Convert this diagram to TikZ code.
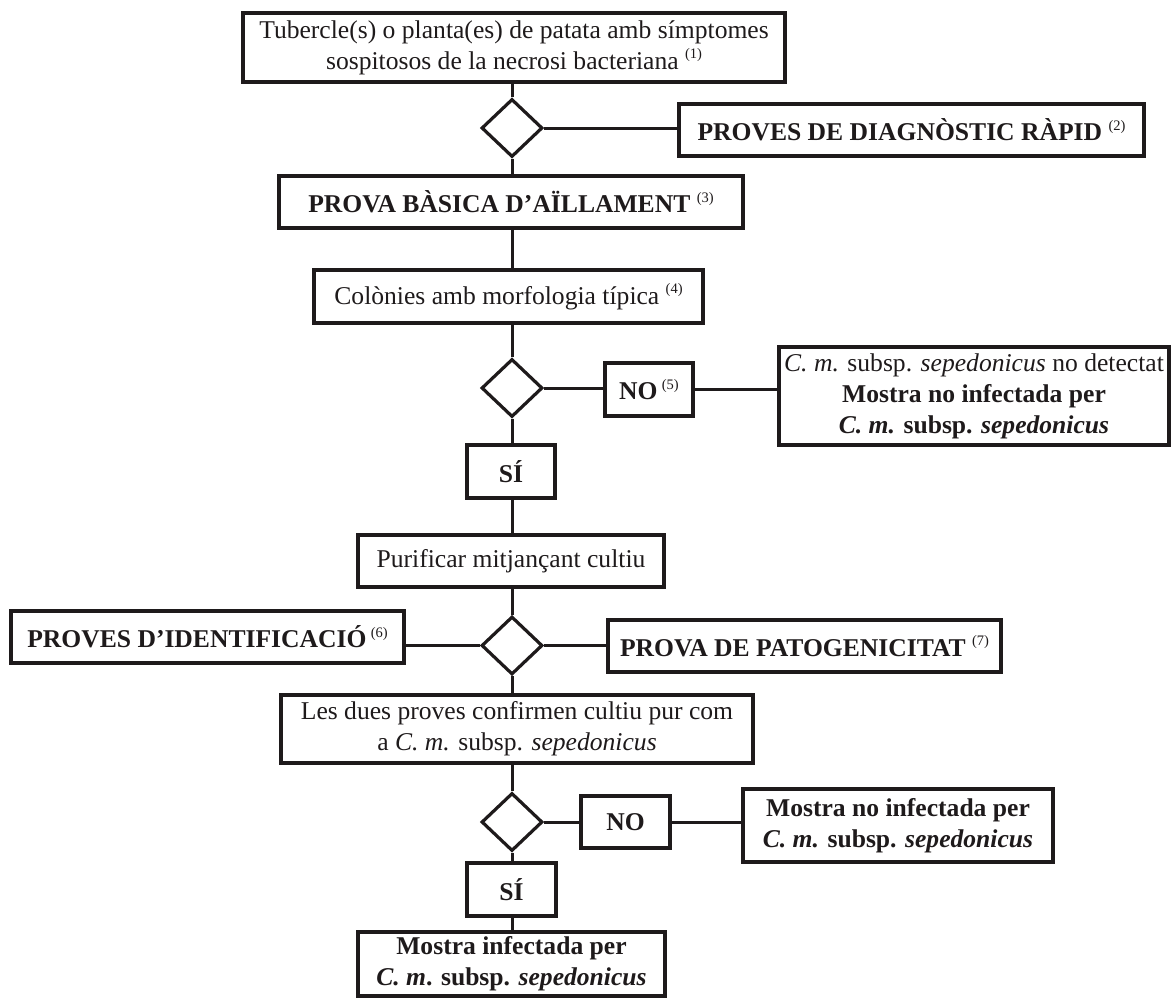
\documentclass[tikz,border=0pt]{standalone}
\usepackage{fontspec}
\setmainfont{Liberation Serif}
\usetikzlibrary{shapes.geometric}
\definecolor{ink}{RGB}{30,26,27}
\newcommand{\fnum}[1]{\raisebox{0.42em}{\fontsize{14.5bp}{14.5bp}\selectfont\mdseries(#1)}}
\begin{document}
\begin{tikzpicture}[x=1bp,y=-1bp,
  box/.style={draw=ink, rectangle, line width=3.2bp, inner xsep=2bp, inner ysep=1bp,
    align=center, text=ink, font=\fontsize{25.6bp}{31bp}\selectfont},
  bbox/.style={box, font=\fontsize{25.6bp}{31bp}\selectfont\bfseries},
  dec/.style={draw=ink, diamond, line width=3.2bp, minimum width=61bp, minimum height=58bp, inner sep=0pt},
  link/.style={draw=ink, line width=3bp}]
\useasboundingbox (0,0) rectangle (1171,999);

\node[box, minimum width=542bp, minimum height=69bp] (top) at (514,47.5)
  {Tubercle(s) o planta(es) de patata amb símptomes\\sospitosos de la necrosi bacteriana \fnum{1}};
\node[dec] (d1) at (512,128) {};
\node[bbox, minimum width=465bp, minimum height=52bp] (diag) at (911.5,130)
  {PROVES DE DIAGNÒSTIC RÀPID \fnum{2}};
\node[bbox, minimum width=464bp, minimum height=52bp] (basic) at (511,202)
  {PROVA BÀSICA D’AÏLLAMENT \fnum{3}};
\node[box, minimum width=389bp, minimum height=53bp] (col) at (508.5,296.5)
  {Colònies amb morfologia típica \fnum{4}};
\node[dec] (d2) at (512,388) {};
\node[bbox, minimum width=88bp, minimum height=53bp] (no1) at (649,389.5)
  {NO\,\fnum{5}};
\node[box, minimum width=390bp, minimum height=98bp] (big) at (974,396)
  {\textit{C. m.} subsp. \textit{sepedonicus} no detectat\\
   \textbf{Mostra no infectada per}\\
   \textbf{\textit{C. m.} subsp. \textit{sepedonicus}}};
\node[bbox, minimum width=88bp, minimum height=53bp] (si1) at (511,471.5) {SÍ};
\node[box, minimum width=306bp, minimum height=52bp] (pur) at (511,561)
  {Purificar mitjançant cultiu};
\node[dec] (d3) at (512,645.5) {};
\node[bbox, minimum width=393bp, minimum height=52bp] (ident) at (207.5,637)
  {PROVES D’IDENTIFICACIÓ\,\fnum{6}};
\node[bbox, minimum width=393bp, minimum height=52bp] (pat) at (804.5,646)
  {PROVA DE PATOGENICITAT \fnum{7}};
\node[box, minimum width=472bp, minimum height=68bp] (dues) at (517,729)
  {Les dues proves confirmen cultiu pur com\\a \textit{C. m.} subsp. \textit{sepedonicus}};
\node[dec] (d4) at (512,822) {};
\node[bbox, minimum width=89bp, minimum height=52bp] (no2) at (625.5,822) {NO};
\node[bbox, minimum width=310bp, minimum height=73bp] (low) at (898,825.5)
  {Mostra no infectada per\\\textit{C. m.} subsp. \textit{sepedonicus}};
\node[bbox, minimum width=89bp, minimum height=53bp] (si2) at (511.5,889.5) {SÍ};
\node[bbox, minimum width=307bp, minimum height=64bp] (final) at (511.5,964)
  {Mostra infectada per\\\textit{C. m}. subsp. \textit{sepedonicus}};

\draw[link] (d1.north |- top.south) -- (d1.north);
\draw[link] (d1.east) -- (d1.east -| diag.west);
\draw[link] (d1.south) -- (d1.south |- basic.north);
\draw[link] (d1.south |- basic.south) -- (d1.south |- col.north);
\draw[link] (d2.north |- col.south) -- (d2.north);
\draw[link] (d2.east) -- (d2.east -| no1.west);
\draw[link] (no1.east) -- (no1.east -| big.west);
\draw[link] (d2.south) -- (d2.south |- si1.north);
\draw[link] (d2.south |- si1.south) -- (d2.south |- pur.north);
\draw[link] (d3.north |- pur.south) -- (d3.north);
\draw[link] (d3.west) -- (d3.west -| ident.east);
\draw[link] (d3.east) -- (d3.east -| pat.west);
\draw[link] (d3.south) -- (d3.south |- dues.north);
\draw[link] (d4.north |- dues.south) -- (d4.north);
\draw[link] (d4.east) -- (no2.west);
\draw[link] (no2.east) -- (no2.east -| low.west);
\draw[link] (d4.south) -- (d4.south |- si2.north);
\draw[link] (d4.south |- si2.south) -- (d4.south |- final.north);
\end{tikzpicture}
\end{document}
